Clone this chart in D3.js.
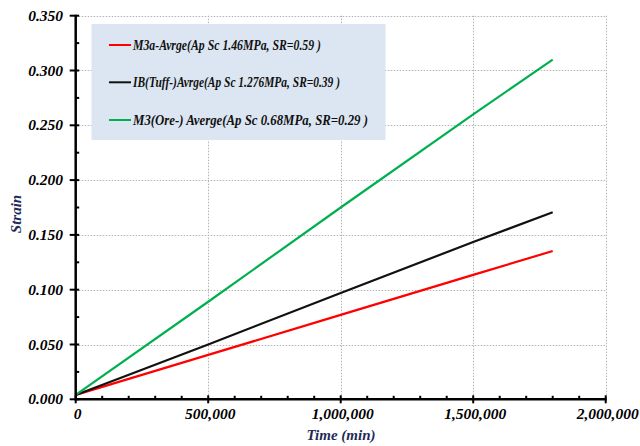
<!DOCTYPE html>
<html>
<head>
<meta charset="utf-8">
<script src="https://cdn.jsdelivr.net/npm/d3@7"></script>
<style>
  html, body { margin: 0; padding: 0; background: #fff; }
  svg { display: block; }
</style>
</head>
<body>
<svg id="chart" width="640" height="446"></svg>
<script>
// Creep strain over time for three rock samples
const timeMin = [0, 500000, 1000000, 1500000, 1800000];
const strainM3a = [0.004, 0.0405, 0.077, 0.1135, 0.1353];
const strainIB = [0.004, 0.050, 0.097, 0.1435, 0.1706];
const strainM3 = [0.004, 0.089, 0.175, 0.260, 0.310];

const seriesNames = [
  "M3a-Avrge(Ap Sc 1.46MPa, SR=0.59 )",
  "IB(Tuff-)Avrge(Ap Sc 1.276MPa, SR=0.39 )",
  "M3(Ore-) Averge(Ap Sc 0.68MPa, SR=0.29 )"
];
const seriesColors = ["#ff0000", "#111111", "#00b050"];
const seriesValues = [strainM3a, strainIB, strainM3];

const xTicks = [0, 500000, 1000000, 1500000, 2000000];
const yTicks = [0, 0.05, 0.1, 0.15, 0.2, 0.25, 0.3, 0.35];

const svg = d3.select("#chart");
const plotLeft = 75.7, plotRight = 605.7, plotTop = 15.7, plotBottom = 399.3;

const x = d3.scaleLinear().domain([0, 2000000]).range([plotLeft, plotRight]);
const y = d3.scaleLinear().domain([0, 0.35]).range([plotBottom, plotTop]);

const serif = "'Liberation Serif', 'Times New Roman', serif";
const fmtX = d3.format(",");
const fmtY = d3.format(".3f");

// grid
const grid = svg.append("g").attr("stroke", "#b4b4b4").attr("stroke-width", 1)
  .attr("stroke-dasharray", "1.5,1.5");
grid.selectAll(".gy").data(yTicks.slice(1)).join("line")
  .attr("x1", plotLeft).attr("x2", plotRight)
  .attr("y1", d => Math.round(y(d)) + 0.5).attr("y2", d => Math.round(y(d)) + 0.5);
grid.selectAll(".gx").data(xTicks.slice(1)).join("line")
  .attr("y1", plotTop).attr("y2", plotBottom)
  .attr("x1", d => Math.round(x(d)) + 0.5).attr("x2", d => Math.round(x(d)) + 0.5);

// legend box
const legend = svg.append("g");
legend.append("rect").attr("x", 91.5).attr("y", 24).attr("width", 294).attr("height", 116)
  .attr("fill", "#dce6f2");
const rowY = [45, 82.3, 120];
const textW = [188, 207, 235];
seriesNames.forEach((name, i) => {
  legend.append("line").attr("x1", 109).attr("x2", 131)
    .attr("y1", rowY[i]).attr("y2", rowY[i])
    .attr("stroke", seriesColors[i]).attr("stroke-width", 2);
  legend.append("text").attr("x", 133).attr("y", rowY[i] + 5)
    .attr("font-family", serif).attr("font-style", "italic").attr("font-weight", "bold")
    .attr("font-size", 14.5).attr("fill", "#111")
    .attr("textLength", textW[i]).attr("lengthAdjust", "spacingAndGlyphs")
    .text(name);
});

// series lines
const line = d3.line().x((d, i) => x(timeMin[i])).y(d => y(d));
seriesValues.forEach((vals, i) => {
  svg.append("path").datum(vals).attr("d", line)
    .attr("fill", "none").attr("stroke", seriesColors[i]).attr("stroke-width", 2.2);
});

// y axis
const yAxis = svg.append("g");
yAxis.append("line").attr("x1", plotLeft).attr("x2", plotLeft).attr("y1", plotTop - 1).attr("y2", plotBottom + 1)
  .attr("stroke", "#000").attr("stroke-width", 2.5);
yAxis.selectAll(".ymaj").data(yTicks).join("line")
  .attr("x1", plotLeft - 6).attr("x2", plotLeft + 3.5)
  .attr("y1", d => y(d)).attr("y2", d => y(d))
  .attr("stroke", "#000").attr("stroke-width", 2);
yAxis.selectAll(".ymin").data(d3.range(0.025, 0.35, 0.05)).join("line")
  .attr("x1", plotLeft).attr("x2", plotLeft + 3.5)
  .attr("y1", d => y(d)).attr("y2", d => y(d))
  .attr("stroke", "#000").attr("stroke-width", 2);
yAxis.selectAll(".ylab").data(yTicks).join("text")
  .attr("x", 63).attr("y", d => y(d) + 5)
  .attr("text-anchor", "end")
  .attr("font-family", serif).attr("font-style", "italic").attr("font-weight", "bold")
  .attr("font-size", 15.5).attr("fill", "#000")
  .text(d => fmtY(d));

// x axis
const xAxis = svg.append("g");
xAxis.append("line").attr("x1", plotLeft - 1).attr("x2", plotRight + 1).attr("y1", plotBottom).attr("y2", plotBottom)
  .attr("stroke", "#000").attr("stroke-width", 2.5);
xAxis.selectAll(".xmaj").data(xTicks).join("line")
  .attr("x1", d => x(d)).attr("x2", d => x(d))
  .attr("y1", plotBottom - 4).attr("y2", plotBottom + 4)
  .attr("stroke", "#000").attr("stroke-width", 2);
xAxis.selectAll(".xmin").data(d3.range(100000, 2000000, 100000).filter(v => v % 500000 !== 0)).join("line")
  .attr("x1", d => x(d)).attr("x2", d => x(d))
  .attr("y1", plotBottom - 3.5).attr("y2", plotBottom)
  .attr("stroke", "#000").attr("stroke-width", 2);
xAxis.selectAll(".xlab").data(xTicks).join("text")
  .attr("x", d => x(d) + 2).attr("y", 419)
  .attr("text-anchor", "middle")
  .attr("font-family", serif).attr("font-style", "italic").attr("font-weight", "bold")
  .attr("font-size", 15.5).attr("fill", "#000")
  .text(d => fmtX(d));

// axis titles
svg.append("text").attr("x", 341).attr("y", 440).attr("text-anchor", "middle")
  .attr("font-family", serif).attr("font-style", "italic").attr("font-weight", "bold")
  .attr("font-size", 15).attr("fill", "#1f2a57").text("Time (min)");
svg.append("text").attr("transform", "translate(21,214) rotate(-90)").attr("text-anchor", "middle")
  .attr("font-family", serif).attr("font-style", "italic").attr("font-weight", "bold")
  .attr("font-size", 15).attr("fill", "#1f2a57").text("Strain");
</script>
</body>
</html>
